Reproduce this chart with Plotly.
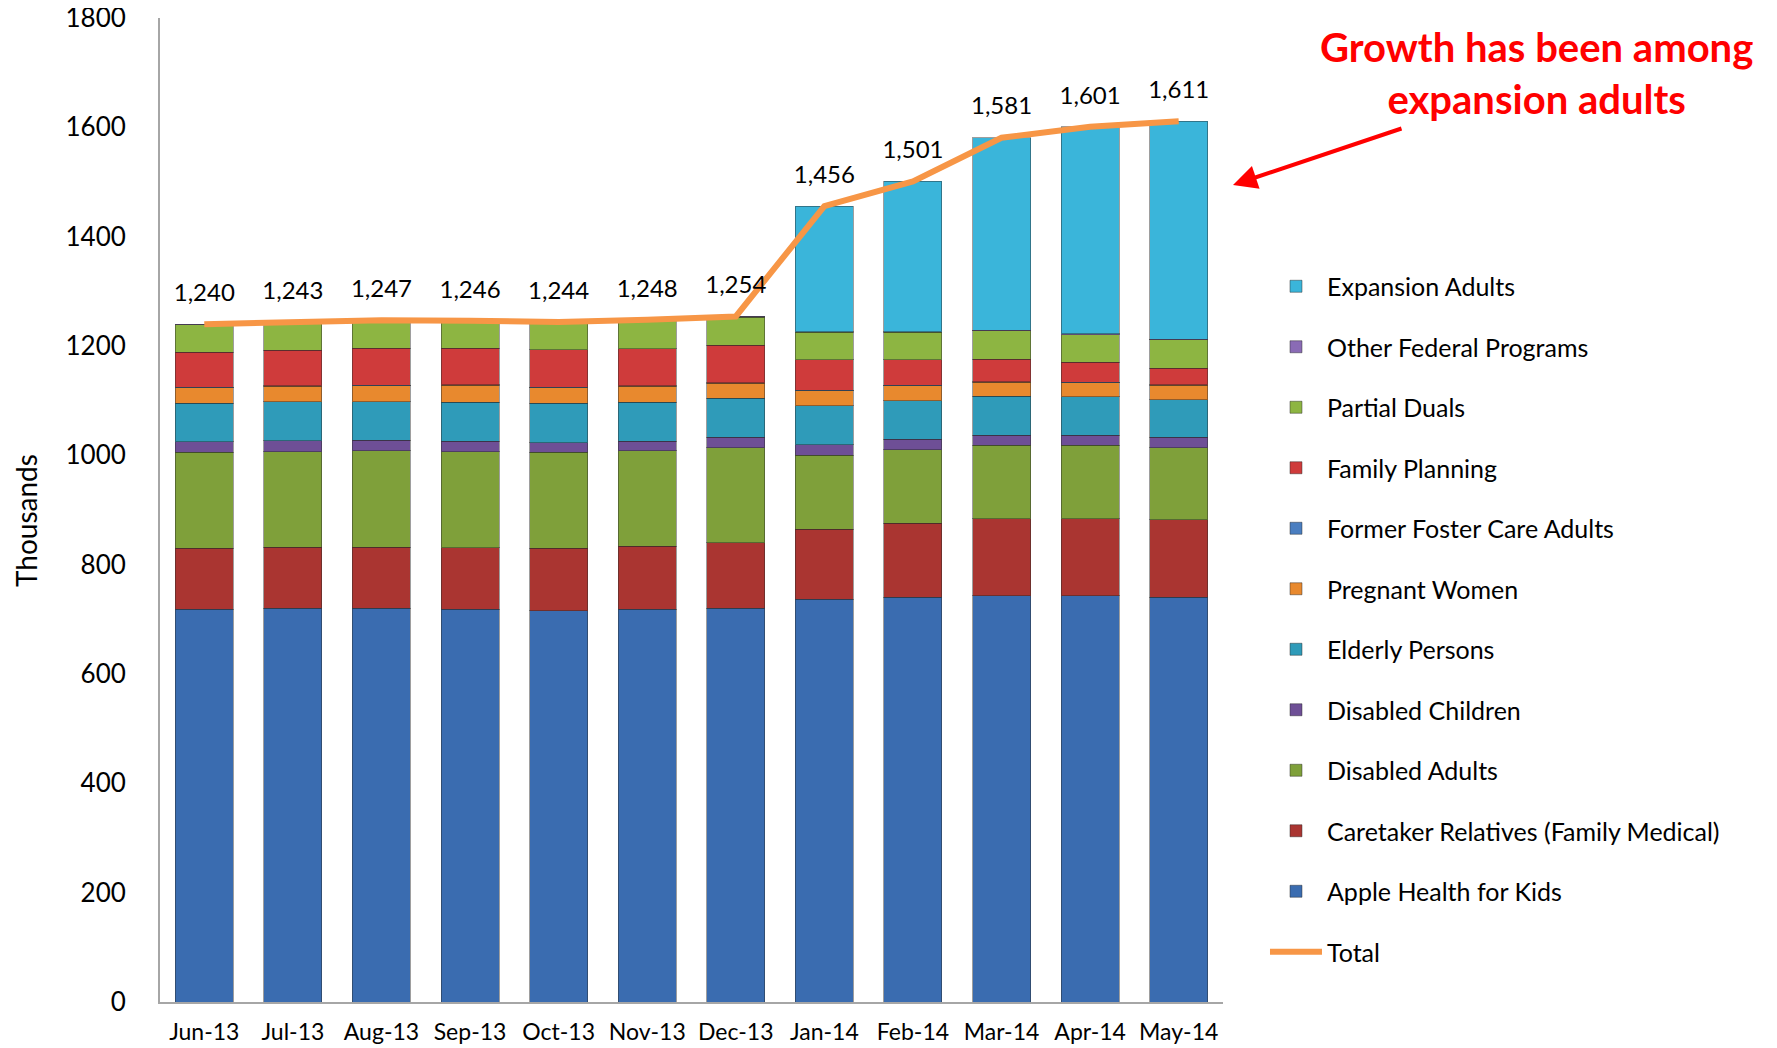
import plotly.graph_objects as go

months = ["Jun-13", "Jul-13", "Aug-13", "Sep-13", "Oct-13", "Nov-13", "Dec-13",
          "Jan-14", "Feb-14", "Mar-14", "Apr-14", "May-14"]

apple_health_for_kids = [718, 720, 720, 718, 716, 718, 720, 737, 740, 743, 743, 740]
caretaker_relatives = [112, 112, 112, 113, 114, 116, 120, 128, 136, 141, 141, 142]
disabled_adults = [176, 175, 176, 176, 176, 174, 174, 135, 134, 134, 134, 132]
disabled_children = [19, 20, 20, 19, 17, 18, 19, 19, 19, 19, 19, 19]
elderly_persons = [70, 71, 70, 71, 72, 71, 71, 72, 71, 71, 70, 69]
pregnant_women = [29, 28, 29, 31, 29, 29, 28, 27, 27, 26, 26, 26]
former_foster_care_adults = [1, 1, 1, 1, 1, 1, 1, 1, 1, 1, 1, 1]
family_planning = [64, 65, 68, 67, 68, 68, 68, 56, 47, 41, 36, 30]
partial_duals = [50, 50, 50, 49, 50, 52, 52, 50, 50, 52, 51, 52]
other_federal_programs = [1, 1, 1, 1, 1, 1, 1, 1, 1, 1, 1, 1]
expansion_adults = [0, 0, 0, 0, 0, 0, 0, 230, 275, 352, 379, 399]
total = [1240, 1243, 1247, 1246, 1244, 1248, 1254, 1456, 1501, 1581, 1601, 1611]

y_ticks = [0, 200, 400, 600, 800, 1000, 1200, 1400, 1600, 1800]

series = [
    ("Apple Health for Kids", apple_health_for_kids, "#3A6CB0"),
    ("Caretaker Relatives (Family Medical)", caretaker_relatives, "#AA3531"),
    ("Disabled Adults", disabled_adults, "#7FA03A"),
    ("Disabled Children", disabled_children, "#6E4F96"),
    ("Elderly Persons", elderly_persons, "#2F9BB9"),
    ("Pregnant Women", pregnant_women, "#E8892E"),
    ("Former Foster Care Adults", former_foster_care_adults, "#4A7EC0"),
    ("Family Planning", family_planning, "#CF3B3B"),
    ("Partial Duals", partial_duals, "#8DB542"),
    ("Other Federal Programs", other_federal_programs, "#8A6BB5"),
    ("Expansion Adults", expansion_adults, "#3AB5DA"),
]

fig = go.Figure()

n = len(series)
for i, (name, vals, color) in enumerate(series):
    fig.add_trace(go.Bar(
        x=months, y=vals, name=name,
        marker=dict(color=color, line=dict(color="rgba(40,40,40,0.45)", width=1)),
        legendgroup=name, legendrank=n - i,
    ))

fig.add_trace(go.Scatter(
    x=months, y=total, name="Total", mode="lines+markers+text",
    line=dict(color="#F79646", width=6),
    marker=dict(size=26, color="rgba(0,0,0,0)"),
    text=[f"{v:,}" for v in total], textposition="top center",
    textfont=dict(family="Lato", size=24, color="#000000"),
    legendgroup="Total", legendrank=n + 1,
))

fig.update_layout(
    template="none",
    barmode="stack",
    bargap=0.345,
    width=1769, height=1040,
    margin=dict(l=152, r=554, t=10, b=46),
    plot_bgcolor="white", paper_bgcolor="white",
    showlegend=True,
    legend=dict(
        traceorder="grouped",
        x=1.0395, xanchor="left", y=0.7505, yanchor="top",
        font=dict(family="Lato", size=25, color="#000000"),
        tracegroupgap=25,
        itemwidth=52,
        bgcolor="rgba(0,0,0,0)",
    ),
    xaxis=dict(
        automargin=False,
        range=[-0.5, len(months) - 0.5],
        showline=True, linecolor="#A6A6A6", linewidth=2,
        showgrid=False, ticks="outside", ticklen=8, tickcolor="rgba(0,0,0,0)",
        ticklabeloverflow="allow",
        tickfont=dict(family="Lato", size=23, color="#000000"),
    ),
    yaxis=dict(
        automargin=False,
        range=[0, 1800], tickvals=y_ticks,
        showline=True, linecolor="#A6A6A6", linewidth=2,
        showgrid=False, ticks="outside", ticklen=27, tickcolor="rgba(0,0,0,0)",
        zeroline=False, ticklabeloverflow="allow",
        tickfont=dict(family="Lato", size=26, color="#000000"),
    ),
    annotations=[
        dict(
            text="Thousands", textangle=-90,
            xref="x domain", yref="y domain",
            x=(26 - 160) / 1063, y=(1002 - 521) / 984,
            xanchor="center", yanchor="middle", showarrow=False,
            font=dict(family="Lato", size=28, color="#000000"),
        ),
        dict(
            text="<b>Growth has been among<br>expansion adults</b>",
            xref="x domain", yref="y domain",
            x=(1536 - 160) / 1063, y=(1002 - 73) / 984,
            xanchor="center", yanchor="middle", showarrow=False,
            font=dict(family="Lato", size=40, color="#FF0000"),
            align="center",
        ),
        dict(
            xref="x domain", yref="y domain",
            x=(1233 - 160) / 1063, y=(1002 - 185) / 984,
            ax=(1403 - 160) / 1063, ay=(1002 - 128) / 984,
            axref="x domain", ayref="y domain",
            showarrow=True, arrowhead=2, arrowsize=1.2, arrowwidth=4,
            arrowcolor="#FF0000", text="",
        ),
    ],
)

fig.write_html("out.html")
